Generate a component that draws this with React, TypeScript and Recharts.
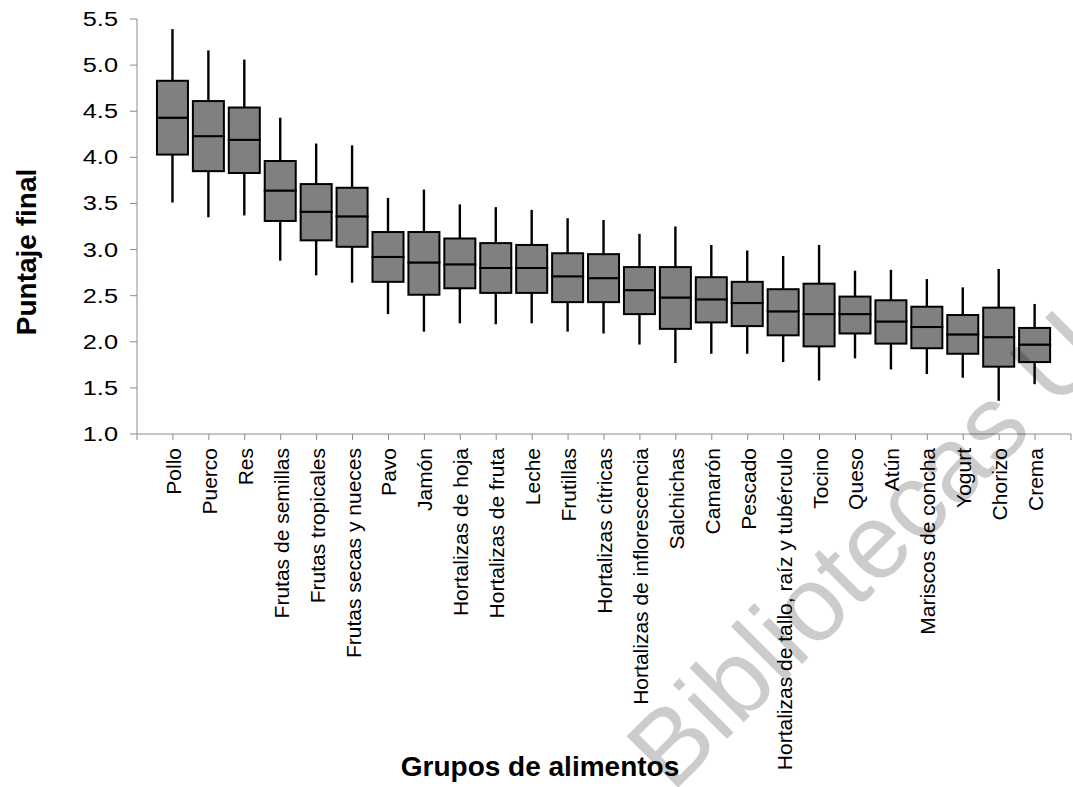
import React from 'react';
import { ComposedChart, Bar, XAxis, YAxis, Label } from 'recharts';

const categories = [
  'Pollo', 'Puerco', 'Res', 'Frutas de semillas', 'Frutas tropicales', 'Frutas secas y nueces',
  'Pavo', 'Jamón', 'Hortalizas de hoja', 'Hortalizas de fruta', 'Leche', 'Frutillas',
  'Hortalizas cítricas', 'Hortalizas de inflorescencia', 'Salchichas', 'Camarón', 'Pescado',
  'Hortalizas de tallo, raíz y tubérculo', 'Tocino', 'Queso', 'Atún', 'Mariscos de concha',
  'Yogurt', 'Chorizo', 'Crema',
];
const maxVals = [5.39, 5.16, 5.06, 4.43, 4.15, 4.13, 3.56, 3.65, 3.49, 3.46, 3.43, 3.34, 3.32, 3.17, 3.25, 3.05, 2.99, 2.93, 3.05, 2.77, 2.78, 2.68, 2.59, 2.79, 2.41];
const q3Vals = [4.83, 4.61, 4.54, 3.96, 3.71, 3.67, 3.19, 3.19, 3.12, 3.07, 3.05, 2.96, 2.95, 2.81, 2.81, 2.70, 2.65, 2.57, 2.63, 2.49, 2.45, 2.38, 2.29, 2.37, 2.15];
const medianVals = [4.43, 4.23, 4.19, 3.64, 3.41, 3.36, 2.92, 2.86, 2.84, 2.80, 2.80, 2.71, 2.69, 2.56, 2.48, 2.46, 2.42, 2.33, 2.30, 2.30, 2.22, 2.16, 2.08, 2.05, 1.97];
const q1Vals = [4.03, 3.85, 3.83, 3.31, 3.10, 3.03, 2.65, 2.51, 2.58, 2.53, 2.53, 2.43, 2.43, 2.30, 2.14, 2.21, 2.17, 2.07, 1.95, 2.09, 1.98, 1.93, 1.87, 1.73, 1.78];
const minVals = [3.51, 3.35, 3.37, 2.88, 2.72, 2.64, 2.30, 2.11, 2.20, 2.19, 2.20, 2.11, 2.09, 1.97, 1.77, 1.87, 1.87, 1.78, 1.58, 1.82, 1.70, 1.65, 1.61, 1.36, 1.54];
const yTicks = [1.0, 1.5, 2.0, 2.5, 3.0, 3.5, 4.0, 4.5, 5.0, 5.5];

const xTicks = Array.from({ length: categories.length + 2 }, (_, i) => i);

const data = categories.map((name, i) => ({
  x: i + 1,
  name,
  base: minVals[i],
  lowWhisker: q1Vals[i] - minVals[i],
  lowBox: medianVals[i] - q1Vals[i],
  highBox: q3Vals[i] - medianVals[i],
  highWhisker: maxVals[i] - q3Vals[i],
}));

const FONT = '"Liberation Sans", Arial, sans-serif';

const Whisker = (props: any) => {
  const { x, y, width, height } = props;
  const cx = x + width / 2;
  return <line x1={cx} x2={cx} y1={y} y2={y + height} stroke="#000" strokeWidth={2.4} />;
};

const BoxPart = (props: any) => {
  const { x, y, width, height } = props;
  return <rect x={x} y={y} width={width} height={height} fill="#808080" stroke="#000" strokeWidth={2} />;
};

const XTick = (props: any) => {
  const { x, y, payload } = props;
  const label = categories[payload.value - 1];
  if (!label) return null;
  return (
    <text
      transform={`translate(${x + 8},${y + 6}) rotate(-90)`}
      textAnchor="end"
      fontSize={21}
      fontFamily={FONT}
      fill="#000"
    >
      {label}
    </text>
  );
};

const YTick = (props: any) => {
  const { x, y, payload } = props;
  return (
    <g transform={`translate(${x},${y})`}>
      <text transform="scale(1.3,1)" textAnchor="end" dy="0.36em" fontSize={19.5} fontFamily={FONT} fill="#000">
        {Number(payload.value).toFixed(1)}
      </text>
    </g>
  );
};

export default function App() {
  return (
    <div style={{ position: 'absolute', left: 0, top: 0, width: 1073, height: 787 }}>
      <ComposedChart
        width={1073}
        height={787}
        data={data}
        margin={{ top: 19, right: 2, left: 0, bottom: 0 }}
      >
        <XAxis
          type="number"
          dataKey="x"
          domain={[0, categories.length + 1]}
          ticks={xTicks}
          interval={0}
          allowDataOverflow
          height={353}
          stroke="#8c8c8c"
          tickSize={6}
          tickMargin={2}
          tick={<XTick />}
        >
          <Label
            content={() => (
              <text x={540} y={776} textAnchor="middle" fontSize={28} fontWeight="bold" fontFamily={FONT} fill="#000">
                Grupos de alimentos
              </text>
            )}
          />
        </XAxis>
        <YAxis
          type="number"
          domain={[1, 5.5]}
          ticks={yTicks}
          allowDataOverflow
          width={137}
          stroke="#8c8c8c"
          tickSize={7}
          tickMargin={12}
          tick={<YTick />}
          interval={0}
        >
          <Label
            content={() => (
              <text
                transform="translate(36,252) rotate(-90)"
                textAnchor="middle"
                fontSize={28}
                fontWeight="bold"
                fontFamily={FONT}
                fill="#000"
              >
                Puntaje final
              </text>
            )}
          />
        </YAxis>
        <Bar dataKey="base" stackId="s" fill="none" barSize={31} isAnimationActive={false} />
        <Bar dataKey="lowWhisker" stackId="s" barSize={31} shape={<Whisker />} isAnimationActive={false} />
        <Bar dataKey="lowBox" stackId="s" barSize={31} shape={<BoxPart />} isAnimationActive={false} />
        <Bar dataKey="highBox" stackId="s" barSize={31} shape={<BoxPart />} isAnimationActive={false} />
        <Bar dataKey="highWhisker" stackId="s" barSize={31} shape={<Whisker />} isAnimationActive={false} />
      </ComposedChart>
      <svg
        width={1073}
        height={787}
        style={{ position: 'absolute', left: 0, top: 0, pointerEvents: 'none' }}
      >
        <text
          transform="translate(672,794) rotate(-45)"
          fontSize={106}
          fontFamily={FONT}
          fill="#000"
          fillOpacity={0.2}
        >
          Bibliotecas U
        </text>
      </svg>
    </div>
  );
}
